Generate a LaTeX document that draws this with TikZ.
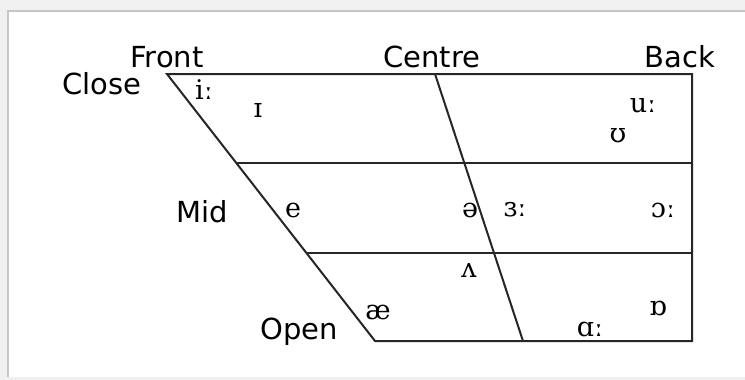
\documentclass[tikz,border=0pt]{standalone}
\usepackage{fontspec}
\setmainfont{DejaVu Sans}
\newfontfamily\ipafont{DejaVu Serif}
\usetikzlibrary{positioning}

\begin{document}
\begin{tikzpicture}[
    x=1pt, y=-1pt,
    edge/.style={line width=2pt, draw=black!85},
    lab/.style={inner sep=0pt, font=\fontsize{29}{30}\selectfont},
    vow/.style={inner sep=0pt, font=\ipafont\fontsize{27}{28}\selectfont}
]
% frame
\useasboundingbox (0,0) rectangle (745,380);
\fill[gray!12] (0,0) rectangle (745,380);
\fill[white] (9,12) rectangle (745,377);
\draw[gray!45, line width=2pt] (8,377) -- (8,11) -- (745,11);

% chart corners
\coordinate (fc) at (167,74);
\coordinate (cc) at (435,74);
\coordinate (bc) at (692,74);
\coordinate (fm) at (236,163);
\coordinate (bm) at (692,163);
\coordinate (fl) at (307,253);
\coordinate (bl) at (692,253);
\coordinate (fo) at (375,341);
\coordinate (co) at (523,341);
\coordinate (bo) at (692,341);

\draw[edge, line join=miter] (fc) -- (bc) -- (bo) -- (fo) -- cycle;
\draw[edge] (cc) -- (co);
\draw[edge] (fm) -- (bm);
\draw[edge] (fl) -- (bl);

% labels
\node[lab] (front) at (167,57) {Front};
\node[lab] (centre) at (432,57) {Centre};
\node[lab] (back) at (680,57) {Back};
\node[lab] (close) at (102,84) {Close};
\node[lab] (mid) at (202,212) {Mid};
\node[lab] (open) at (299,332) {Open};

% vowels
\node[vow] (iy) at (204,90) {iː};
\node[vow] (ih) at (258,110) {ɪ};
\node[vow] (uw) at (643,106) {uː};
\node[vow] (uh) at (618,136) {ʊ};
\node[vow] (eh) at (293,210) {e};
\node[vow] (ax) at (470,210) {ə};
\node[vow] (er) at (515,210) {ɜː};
\node[vow] (ao) at (663,210) {ɔː};
\node[vow] (ah) at (469,270) {ʌ};
\node[vow] (ae) at (378,312) {æ};
\node[vow] (oh) at (658,308) {ɒ};
\node[vow] (aa) at (590,329) {ɑː};
\end{tikzpicture}
\end{document}
